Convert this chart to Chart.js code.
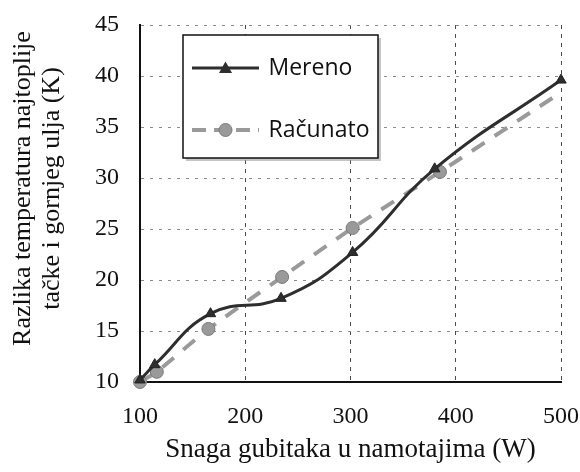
<!DOCTYPE html>
<html><head><meta charset="utf-8">
<script src="https://cdn.jsdelivr.net/npm/chart.js@4/dist/chart.umd.min.js"></script>
<style>html,body{margin:0;padding:0;background:#fff}#wrap{width:580px;height:472px}</style>
</head><body><div id="wrap"><canvas id="c" width="580" height="472"></canvas></div>
<script>
const seriesNames = ['Mereno', 'Računato'];
const merenoX = [100, 114, 167, 234, 302, 380, 500];
const merenoY = [10.2, 11.7, 16.7, 18.2, 22.7, 30.9, 39.6];
const racunatoX = [100, 116, 165, 235, 302, 385, 500];
const racunatoY = [10.0, 11.0, 15.2, 20.3, 25.1, 30.6, 38.4];
const xTicks = [100, 200, 300, 400, 500];
const yTicks = [10, 15, 20, 25, 30, 35, 40, 45];
const xTitle = 'Snaga gubitaka u namotajima (W)';
const yTitle = ['Razlika temperatura najtoplije', 'tačke i gornjeg ulja (K)'];

const SERIF = "'Liberation Serif', 'Times New Roman', serif";
const MER_COLOR = '#2e2e2e';
const RAC_COLOR = '#9a9a9a';
Chart.defaults.font.family = SERIF;

function sampleCanvas(kind) {
  const c = document.createElement('canvas');
  c.width = 67; c.height = 16;
  const g = c.getContext('2d');
  if (kind === 0) {
    g.strokeStyle = MER_COLOR; g.lineWidth = 3;
    g.beginPath(); g.moveTo(0, 8); g.lineTo(67, 8); g.stroke();
    g.fillStyle = MER_COLOR;
    g.beginPath(); g.moveTo(33.5, 1.5); g.lineTo(40, 13); g.lineTo(27, 13); g.closePath(); g.fill();
  } else {
    g.strokeStyle = RAC_COLOR; g.lineWidth = 4; g.setLineDash([14, 8]);
    g.beginPath(); g.moveTo(0, 8); g.lineTo(67, 8); g.stroke();
    g.setLineDash([]);
    g.fillStyle = RAC_COLOR; g.strokeStyle = '#7a7a7a'; g.lineWidth = 1;
    g.beginPath(); g.arc(33.5, 8, 6.5, 0, Math.PI * 2); g.fill(); g.stroke();
  }
  return c;
}
const samples = [sampleCanvas(0), sampleCanvas(1)];

const legendPlace = {
  id: 'legendPlace',
  afterLayout(chart) {
    const lg = chart.legend, ca = chart.chartArea;
    const ys = chart.scales.y;
    if (ys && !ys._titleWrapped) {
      const origTitle = ys.drawTitle.bind(ys);
      ys.drawTitle = function () {
        const b = this.bottom;
        this.bottom -= 30;
        origTitle();
        this.bottom = b;
      };
      ys._titleWrapped = true;
    }
    if (!lg) return;
    const pad = lg.options.labels.padding;
    const fs = lg.options.labels.font.size;
    const h = ca.bottom - ca.top;
    lg.left = ca.left + 54 - pad;
    lg.top = ca.top + 43 - fs / 2 - pad;
    lg.right = lg.left + 300;
    lg.bottom = lg.top + h;
    lg.width = 300; lg.height = h;
    if (!lg._wrapped) {
      const orig = lg.draw.bind(lg);
      lg.draw = function () {
        const a = chart.chartArea, ctx = chart.ctx;
        const x0 = a.left + 43, y0 = a.top + 10, w = 195, hh = 123;
        ctx.save();
        ctx.fillStyle = 'rgba(150,150,150,0.55)';
        ctx.fillRect(x0 + 3, y0 + 3, w, hh);
        ctx.fillStyle = '#ffffff';
        ctx.fillRect(x0, y0, w, hh);
        ctx.strokeStyle = '#111'; ctx.lineWidth = 1.5;
        ctx.strokeRect(x0, y0, w, hh);
        ctx.restore();
        orig();
      };
      lg._wrapped = true;
    }
  }
};

const ctx = document.getElementById('c').getContext('2d');
new Chart(ctx, {
  type: 'line',
  data: {
    datasets: [
      {
        label: seriesNames[0],
        data: merenoX.map((x, i) => ({ x, y: merenoY[i] })),
        borderColor: MER_COLOR, backgroundColor: MER_COLOR,
        borderWidth: 3, tension: 0.45,
        pointStyle: 'triangle', pointRadius: 6, pointBorderWidth: 1,
        pointBorderColor: '#222', pointBackgroundColor: MER_COLOR,
        clip: false, order: 1
      },
      {
        label: seriesNames[1],
        data: racunatoX.map((x, i) => ({ x, y: racunatoY[i] })),
        borderColor: RAC_COLOR, backgroundColor: RAC_COLOR,
        borderWidth: 4, borderDash: [15, 12], tension: 0.2,
        pointStyle: 'circle', pointRadius: racunatoX.map((x, i) => i === racunatoX.length - 1 ? 0 : 6.5),
        pointBorderWidth: 1, pointBorderColor: '#7a7a7a', pointBackgroundColor: RAC_COLOR,
        clip: false, order: 2
      }
    ]
  },
  plugins: [legendPlace],
  options: {
    responsive: false,
    animation: false,
    events: [],
    layout: { autoPadding: false, padding: 0 },
    plugins: {
      tooltip: { enabled: false },
      legend: {
        position: 'chartArea',
        align: 'start',
        labels: {
          usePointStyle: true,
          pointStyleWidth: 63,
          padding: 39,
          color: '#111',
          font: { family: "'Open Sans', 'Noto Sans', sans-serif", size: 23 },
          generateLabels(chart) {
            return chart.data.datasets.map((ds, i) => ({
              text: ds.label, datasetIndex: i, hidden: false,
              pointStyle: samples[i], fillStyle: ds.borderColor,
              strokeStyle: ds.borderColor, lineWidth: 0, fontColor: '#111'
            }));
          }
        }
      }
    },
    scales: {
      x: {
        type: 'linear', min: 100, max: 500,
        afterFit(s) { s.height = 90; s.paddingRight = 19; s.paddingLeft = 0; },
        afterBuildTicks(s) { s.ticks = xTicks.map(v => ({ value: v })); },
        grid: { color: '#4a4a4a', lineWidth: 1, drawTicks: false },
        border: { display: true, color: '#111', width: 2, dash: [4, 5] },
        ticks: { color: '#111', padding: 20, font: { family: SERIF, size: 24 } },
        title: { display: true, text: xTitle, color: '#111', padding: { top: 0, bottom: 6 },
          font: { family: SERIF, size: 27 } }
      },
      y: {
        type: 'linear', min: 10, max: 45,
        afterFit(s) { s.width = 140; s.paddingTop = 25; s.paddingBottom = 0; },
        afterBuildTicks(s) { s.ticks = yTicks.map(v => ({ value: v })); },
        grid: { color: '#8a8a8a', lineWidth: 1, drawTicks: false },
        border: { display: true, color: '#111', width: 2, dash: [3, 6] },
        ticks: { color: '#111', padding: 21, font: { family: SERIF, size: 24 } },
        title: { display: true, text: yTitle, color: '#111', padding: { top: 9, bottom: 0 },
          font: { family: SERIF, size: 26, lineHeight: 1.1 } }
      }
    }
  }
});
</script>
</body></html>
